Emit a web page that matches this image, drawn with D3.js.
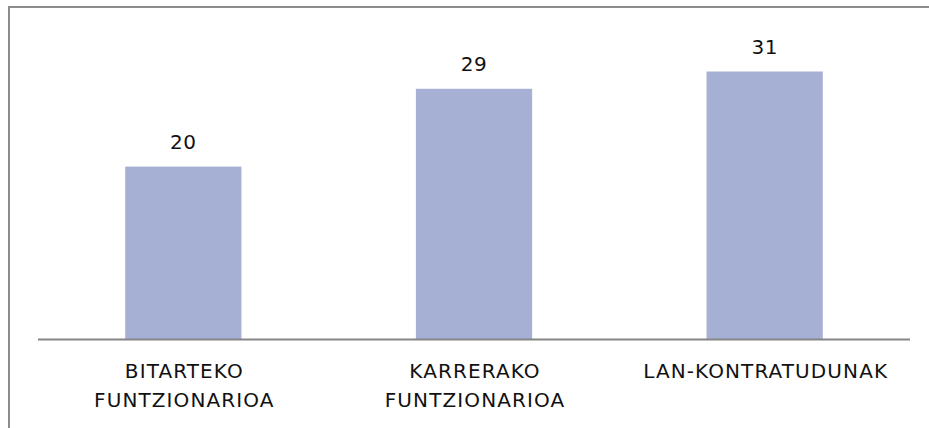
<!DOCTYPE html>
<html>
<head>
<meta charset="utf-8">
<script src="https://cdn.jsdelivr.net/npm/d3@7"></script>
<style>
  body { margin: 0; background: #fff; }
  svg { display: block; }
</style>
</head>
<body>
<div id="vis-container"></div>
<script>
var categories = ["BITARTEKO FUNTZIONARIOA", "KARRERAKO FUNTZIONARIOA", "LAN-KONTRATUDUNAK"];
var labelLines = [["BITARTEKO", "FUNTZIONARIOA"], ["KARRERAKO", "FUNTZIONARIOA"], ["LAN-KONTRATUDUNAK"]];
var values = [20, 29, 31];

var width = 929, height = 428;
var svg = d3.select("#vis-container").append("svg")
  .attr("width", width)
  .attr("height", height);

// outer frame
svg.append("rect")
  .attr("x", 9).attr("y", 7)
  .attr("width", 940).attr("height", 440)
  .attr("fill", "none")
  .attr("stroke", "#8c8c8c")
  .attr("stroke-width", 2);

var x = d3.scaleBand()
  .domain(categories)
  .range([38, 910])
  .paddingInner(0.6)
  .paddingOuter(0.3);

var y = d3.scaleLinear()
  .domain([0, 31])
  .range([339.5, 71.5]);

var font = "'DejaVu Sans', sans-serif";

svg.selectAll("rect.bar")
  .data(values)
  .enter()
  .append("rect")
  .attr("class", "bar")
  .attr("x", function (d, i) { return x(categories[i]); })
  .attr("y", function (d) { return y(d); })
  .attr("width", x.bandwidth())
  .attr("height", function (d) { return y(0) - y(d); })
  .attr("fill", "#a6b0d4");

// baseline
svg.append("line")
  .attr("x1", 38).attr("x2", 910)
  .attr("y1", 339.5).attr("y2", 339.5)
  .attr("stroke", "#868686")
  .attr("stroke-width", 2);

// value labels
svg.selectAll("text.val")
  .data(values)
  .enter()
  .append("text")
  .attr("class", "val")
  .attr("x", function (d, i) { return x(categories[i]) + x.bandwidth() / 2; })
  .attr("y", function (d) { return y(d) - 18; })
  .attr("text-anchor", "middle")
  .style("font-family", font)
  .style("font-size", "20px")
  .style("letter-spacing", "0.5px")
  .attr("fill", "#111")
  .text(function (d) { return d; });

// category labels
var lbl = svg.selectAll("text.cat")
  .data(labelLines)
  .enter()
  .append("text")
  .attr("class", "cat")
  .attr("text-anchor", "middle")
  .style("font-family", font)
  .style("font-size", "20px")
  .style("letter-spacing", "1.1px")
  .attr("fill", "#111")
  .attr("transform", function (d, i) {
    return "translate(" + (x(categories[i]) + x.bandwidth() / 2 + 1) + ",378)";
  });

lbl.selectAll("tspan")
  .data(function (d) { return d; })
  .enter()
  .append("tspan")
  .attr("x", 0)
  .attr("y", function (d, i) { return i * 29; })
  .text(function (d) { return d; });
</script>
</body>
</html>
